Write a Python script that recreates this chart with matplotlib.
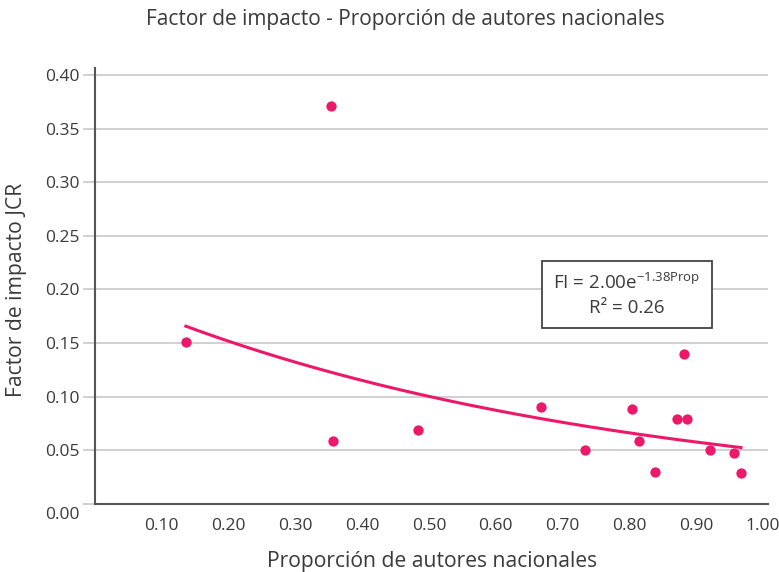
import numpy as np
import matplotlib
matplotlib.use("Agg")
import matplotlib.pyplot as plt
from matplotlib.transforms import ScaledTranslation

# ---- data ----
prop_autores = [0.136, 0.354, 0.356, 0.483, 0.668, 0.734, 0.804, 0.814, 0.838,
                0.871, 0.882, 0.886, 0.921, 0.957, 0.967]
factor_impacto = [0.151, 0.371, 0.059, 0.069, 0.090, 0.050, 0.089, 0.059, 0.030,
                  0.079, 0.140, 0.079, 0.050, 0.048, 0.029]
trend_a = 0.200
trend_b = -1.38
x_ticks = [0.10, 0.20, 0.30, 0.40, 0.50, 0.60, 0.70, 0.80, 0.90, 1.00]
y_ticks = [0.00, 0.05, 0.10, 0.15, 0.20, 0.25, 0.30, 0.35, 0.40]

title = "Factor de impacto - Proporción de autores nacionales"
xlabel = "Proporción de autores nacionales"
ylabel = "Factor de impacto JCR"

plt.rcParams['font.family'] = ['Open Sans', 'DejaVu Sans']
plt.rcParams['mathtext.fontset'] = 'custom'
plt.rcParams['mathtext.rm'] = 'Open Sans'

pink = '#EC1869'
txt = '#3a3a3a'

fig = plt.figure(figsize=(7.79, 5.72), dpi=100)
ax = fig.add_axes([95/779, 1-504/572, (768-95)/779, (504-68)/572])

ax.set_xlim(0, 1.0075)
ax.set_ylim(0, 0.4065)

for yv in y_ticks[1:]:
    ax.axhline(yv, color='#c8c8c8', lw=1.2, zorder=0)

xs = np.linspace(min(prop_autores), max(prop_autores), 200)
ax.plot(xs, trend_a*np.exp(trend_b*xs), color=pink, lw=2.2, zorder=2)
ax.scatter(prop_autores, factor_impacto, s=55, color=pink, zorder=3, linewidths=0)

for s in ['top', 'right']:
    ax.spines[s].set_visible(False)
for s in ['left', 'bottom']:
    ax.spines[s].set_color('#555555')
    ax.spines[s].set_linewidth(1.5)

ax.set_xticks(x_ticks)
ax.set_xticklabels([f"{v:.2f}" for v in x_ticks])
ax.set_yticks(y_ticks)
ax.set_yticklabels([f"{v:.2f}" for v in y_ticks])
ax.tick_params(axis='x', length=0, pad=10, labelsize=12.5, labelcolor=txt)
ax.tick_params(axis='y', length=9, width=1.2, color='#c8c8c8', pad=2,
               labelsize=12.5, labelcolor=txt)
# shift the 0.00 label slightly down like the reference
lbl0 = ax.get_yticklabels()[0]
lbl0.set_transform(lbl0.get_transform() + ScaledTranslation(0, -9/100, fig.dpi_scale_trans))

ax.text(0.796, 0.195, "FI = 2.00e$^{\\mathregular{-1.38Prop}}$\nR² = 0.26",
        ha='center', va='center', fontsize=13.5, color=txt, linespacing=1.4,
        multialignment='center',
        bbox=dict(boxstyle='square,pad=0.6', fc='white', ec='#444444', lw=1.3),
        zorder=5)

fig.text(405/779, 1-20/572, title, ha='center', va='center', fontsize=15, color=txt)
fig.text(432/779, 1-562/572, xlabel, ha='center', va='center', fontsize=15.2, color=txt)
fig.text(17/779, 1-290/572, ylabel, ha='center', va='center', rotation=90,
         fontsize=15.2, color=txt)

fig.savefig("out.png", dpi=100)
